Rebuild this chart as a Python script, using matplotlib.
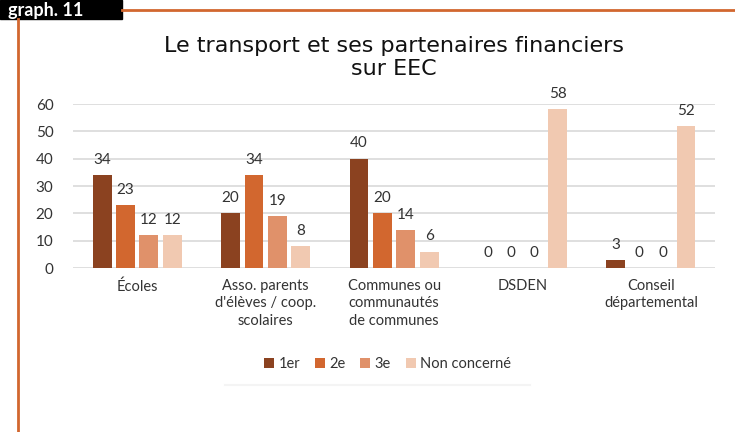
import numpy as np
import matplotlib.pyplot as plt
from matplotlib.patches import Rectangle
from matplotlib.lines import Line2D

categories = ["Écoles", "Asso. parents\nd'élèves / coop.\nscolaires",
              "Communes ou\ncommunautés\nde communes", "DSDEN",
              "Conseil\ndépartemental"]
series_names = ["1er", "2e", "3e", "Non concerné"]
v_1er = [34, 20, 40, 0, 3]
v_2e = [23, 34, 20, 0, 0]
v_3e = [12, 19, 14, 0, 0]
v_nc = [12, 8, 6, 58, 52]
colors = ["#8B4220", "#D2672F", "#E0916A", "#F1C9B1"]

plt.rcParams['font.family'] = ['Lato', 'DejaVu Sans']
txt = "#333333"

fig = plt.figure(figsize=(7.35, 4.32), dpi=100)
ax = fig.add_axes([0.0993, 0.3796, 0.8737, 0.3796])

x = np.arange(len(categories))
w = 0.147
step = 0.182
for i, vals in enumerate([v_1er, v_2e, v_3e, v_nc]):
    pos = x + (i - 1.5) * step
    ax.bar(pos, vals, w, color=colors[i], label=series_names[i], zorder=3)
    for p, v in zip(pos, vals):
        ax.text(p, v + 3, str(v), ha='center', va='bottom', fontsize=11, color=txt)

ax.set_ylim(0, 60)
ax.set_xlim(-0.5, len(categories) - 0.5)
ax.set_yticks(range(0, 61, 10))
ax.yaxis.grid(True, color="#d9d9d9", linewidth=1.2, zorder=0)
ax.set_xticks(x)
ax.set_xticklabels(categories, fontsize=10.5, color=txt, linespacing=1.3)
ax.tick_params(axis='y', labelsize=11, labelcolor=txt, length=0, pad=14)
ax.tick_params(axis='x', length=0, pad=8)
for s in ax.spines.values():
    s.set_visible(False)

ax.set_title("Le transport et ses partenaires financiers\nsur EEC", fontsize=16,
             color="#111111", pad=21, linespacing=1.15, family='DejaVu Sans')

ax.legend(loc='upper center', bbox_to_anchor=(0.49, -0.465), ncol=4, frameon=False,
          fontsize=10.5, handlelength=0.7, handleheight=0.7, handletextpad=0.3,
          columnspacing=1.0, labelcolor=txt)

# page decorations
fig.add_artist(Line2D([122 / 735, 1], [1 - 10 / 432] * 2, color="#D2672F", lw=2))
fig.add_artist(Line2D([18 / 735] * 2, [0, 1 - 19 / 432], color="#D2672F", lw=2))
fig.add_artist(Line2D([225 / 735, 530 / 735], [1 - 385 / 432] * 2, color="#f4f4f4", lw=1.5))
fig.add_artist(Rectangle((0, 1 - 19 / 432), 122 / 735, 19 / 432, color="black"))
fig.text(8 / 735, 1 - 16 / 432, "graph. 11", color="white", fontsize=13,
         fontweight='bold', va='baseline')

fig.savefig("out.png", dpi=100)
